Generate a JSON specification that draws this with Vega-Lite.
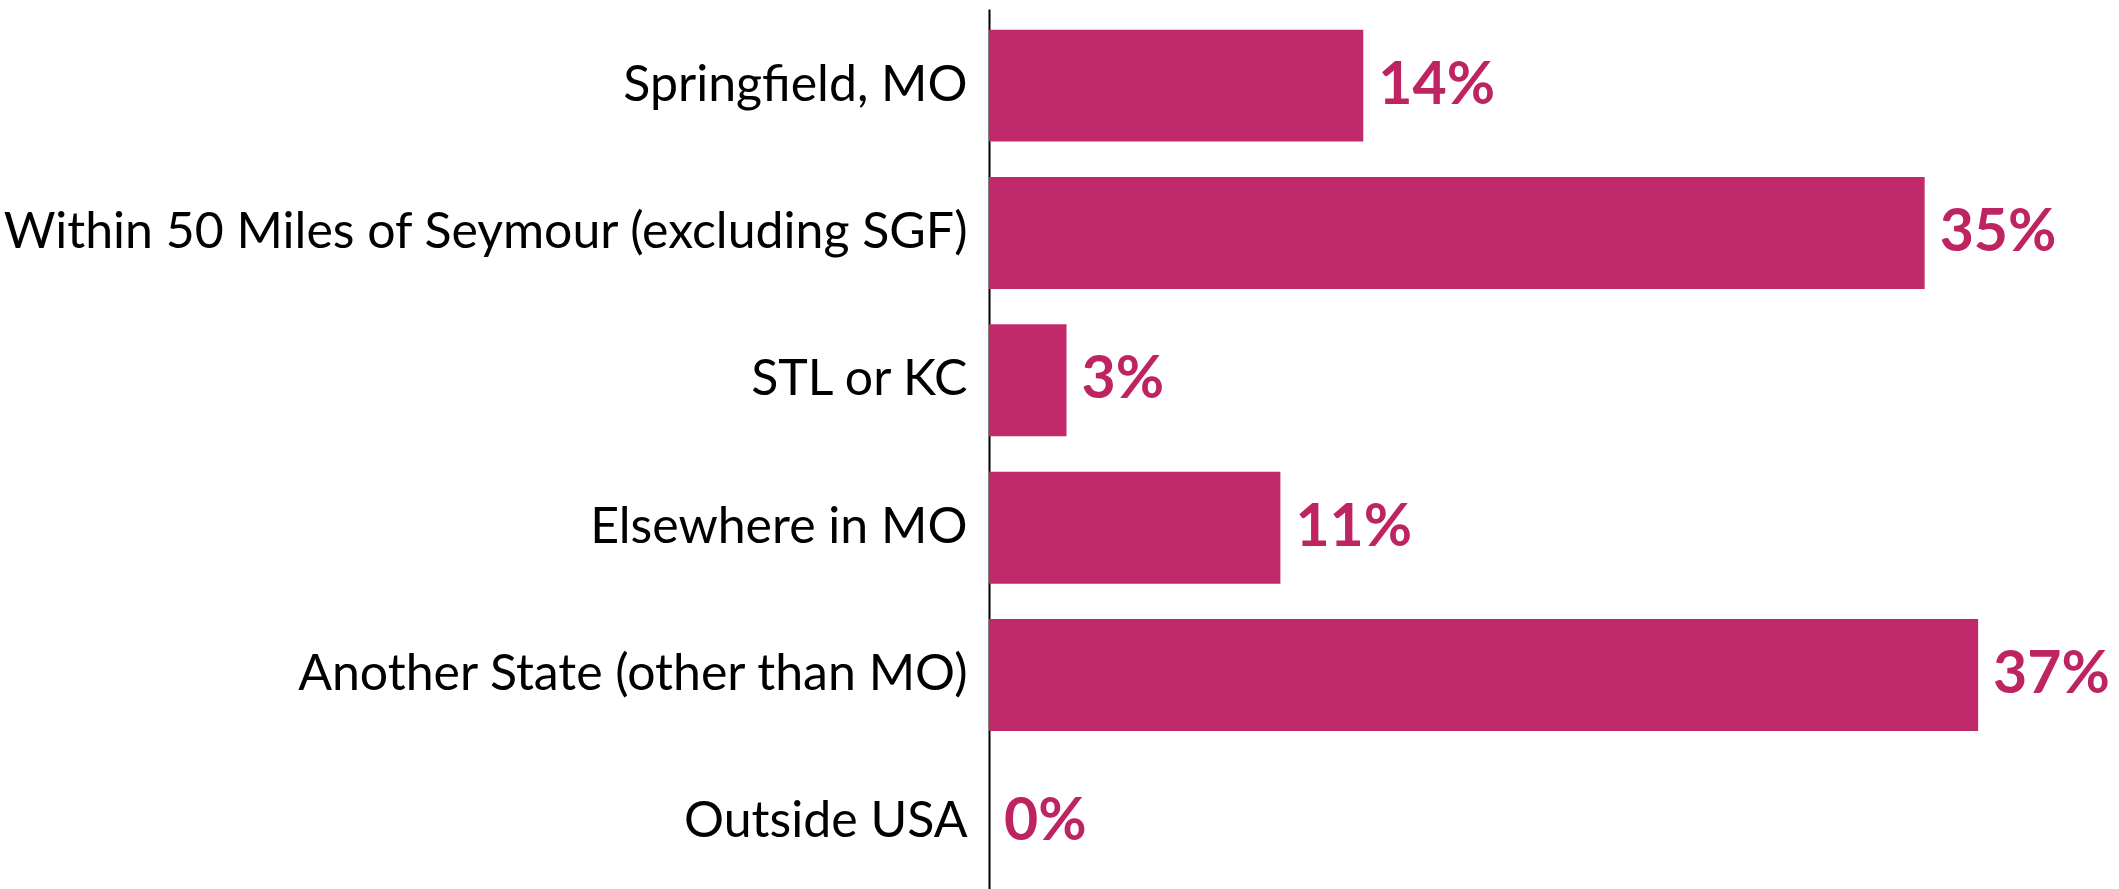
{
  "$schema": "https://vega.github.io/schema/vega-lite/v6.json",
  "autosize": {"type": "none"},
  "padding": {"left": 989, "top": 9, "right": 0, "bottom": 0},
  "width": 1130,
  "height": 890,
  "background": "white",
  "config": {"view": {"stroke": null}},
  "data": {
    "values": [
      {"location": "Springfield, MO", "value": 14, "label": "14%"},
      {"location": "Within 50 Miles of Seymour (excluding SGF)", "value": 35, "label": "35%"},
      {"location": "STL or KC\u00a0", "value": 2.9, "label": "3%"},
      {"location": "Elsewhere in MO", "value": 10.9, "label": "11%"},
      {"location": "Another State (other than MO)", "value": 37, "label": "37%"},
      {"location": "Outside USA", "value": 0, "label": "0%"}
    ]
  },
  "encoding": {
    "y": {
      "field": "location",
      "type": "nominal",
      "sort": null,
      "scale": {"paddingInner": 0.24, "paddingOuter": 0.14},
      "axis": {
        "title": null,
        "ticks": false,
        "domain": true,
        "domainColor": "#000000",
        "domainWidth": 2,
        "labelFont": "Lato",
        "labelFontSize": 50,
        "labelColor": "#000000",
        "labelPadding": 22,
        "labelLimit": 0
      }
    },
    "x": {
      "field": "value",
      "type": "quantitative",
      "scale": {"domain": [0, 42.27], "nice": false},
      "axis": null
    }
  },
  "layer": [
    {"mark": {"type": "bar", "color": "#C0296A"}},
    {
      "mark": {"type": "text", "align": "left", "baseline": "middle", "dx": 15, "font": "Lato", "fontWeight": "bold", "fontSize": 59, "color": "#BE2462"},
      "encoding": {"text": {"field": "label"}}
    }
  ]
}
